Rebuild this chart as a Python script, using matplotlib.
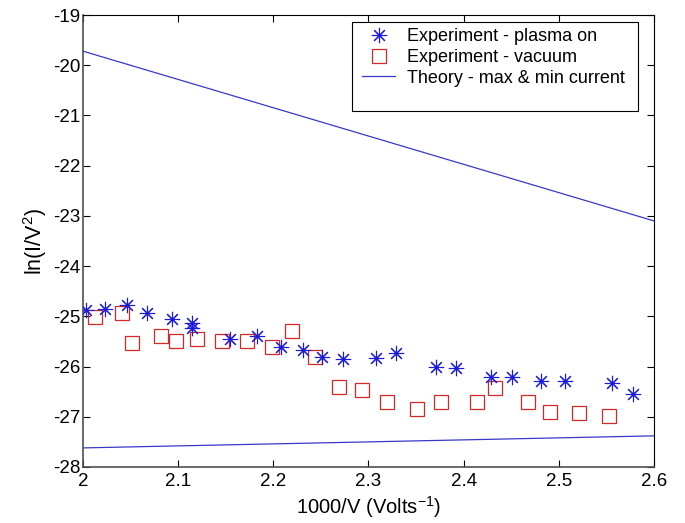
"""
ln(I/V^2) vs 1000/V: experiment (plasma on, vacuum) against theory bounds
"""

import numpy as np
import matplotlib
matplotlib.use('Agg')
import matplotlib.pyplot as plt
from matplotlib.lines import Line2D
from matplotlib.patches import Rectangle

plt.rcParams['font.family'] = ['Liberation Sans', 'DejaVu Sans']
plt.rcParams['mathtext.fontset'] = 'custom'
plt.rcParams['mathtext.rm'] = 'Liberation Sans'
plt.rcParams['mathtext.it'] = 'Liberation Sans'

BLUE = '#1a1ad8'
RED = '#d42828'
LINE_BLUE = '#3838c8'

# Experiment - plasma on
plasma_x = [2.003, 2.023, 2.046, 2.067, 2.094, 2.115, 2.115, 2.154, 2.183, 2.208,
            2.231, 2.251, 2.273, 2.308, 2.329, 2.371, 2.392, 2.429, 2.451, 2.481,
            2.507, 2.556, 2.578]
plasma_y = [-24.87, -24.85, -24.77, -24.93, -25.06, -25.14, -25.24, -25.45, -25.40, -25.62,
            -25.67, -25.80, -25.85, -25.83, -25.73, -26.00, -26.03, -26.21, -26.21, -26.28,
            -26.28, -26.33, -26.55]

# Experiment - vacuum
vac_x = [2.013, 2.041, 2.051, 2.082, 2.098, 2.120, 2.146, 2.172, 2.199, 2.220,
         2.244, 2.269, 2.293, 2.319, 2.351, 2.376, 2.414, 2.433, 2.468, 2.491,
         2.521, 2.553]
vac_y = [-25.02, -24.93, -25.54, -25.39, -25.49, -25.45, -25.49, -25.50, -25.61, -25.30,
         -25.81, -26.40, -26.47, -26.70, -26.84, -26.71, -26.70, -26.43, -26.70, -26.91,
         -26.92, -26.98]

# Theory - max & min current (end points)
theory_x = [2.0, 2.6]
theory_max = [-19.72, -23.10]
theory_min = [-27.62, -27.38]

fig = plt.figure(figsize=(6.85, 5.23), dpi=100)
ax = fig.add_axes([0.1212, 0.1071, 0.8335, 0.8642])

star = (8, 2, 0)
ax.plot(plasma_x, plasma_y, linestyle='none', marker=star, markersize=11,
        markeredgecolor=BLUE, markeredgewidth=0.8, zorder=4)
ax.plot(vac_x, vac_y, linestyle='none', marker='s', markersize=9.5,
        markerfacecolor='none', markeredgecolor=RED, markeredgewidth=0.9, zorder=3)
ax.plot(theory_x, theory_max, color=LINE_BLUE, linewidth=0.9, zorder=2)
ax.plot(theory_x, theory_min, color=LINE_BLUE, linewidth=0.9, zorder=2)

ax.set_xlim(2.0, 2.6)
ax.set_ylim(-28, -19)
ax.set_xticks(np.arange(2.0, 2.61, 0.1))
ax.set_xticklabels(['2', '2.1', '2.2', '2.3', '2.4', '2.5', '2.6'])
ax.set_yticks(np.arange(-28, -18.9, 1))
ax.set_yticklabels([str(v) for v in range(-28, -18)])
ax.tick_params(direction='in', top=True, right=True, length=5, width=0.8,
               labelsize=13.5, colors='black')
ax.tick_params(axis='x', pad=4)
ax.tick_params(axis='y', pad=2)
for side in ['top', 'right']:
    ax.spines[side].set_linewidth(0.8)
    ax.spines[side].set_color('black')
for side in ['left', 'bottom']:
    ax.spines[side].set_linewidth(1.2)
    ax.spines[side].set_color('#505050')

ax.set_xlabel('1000/V (Volts$^{-1}$)', fontsize=14.5, labelpad=3)
ax.set_ylabel('ln(I/V$^{2}$)', fontsize=15.5, labelpad=3)

# Legend: MATLAB style box, taller than its entries
box = Rectangle((0.4711, 0.7876), 0.5009, 0.1969, transform=ax.transAxes,
                facecolor='white', edgecolor='black', linewidth=0.8, zorder=5)
ax.add_patch(box)
handles = [
    Line2D([], [], linestyle='none', marker=star, markersize=11,
           markeredgecolor=BLUE, markeredgewidth=0.8),
    Line2D([], [], linestyle='none', marker='s', markersize=9.5,
           markerfacecolor='none', markeredgecolor=RED, markeredgewidth=0.9),
    Line2D([], [], color=LINE_BLUE, linewidth=0.9),
]
labels = ['Experiment - plasma on', 'Experiment - vacuum',
          'Theory - max & min current']
leg = ax.legend(handles, labels, loc='upper left', bbox_to_anchor=(0.4886, 0.9706),
                borderaxespad=0, borderpad=0, fontsize=13, frameon=False,
                handlelength=1.83, handletextpad=0.66, labelspacing=0.2)
leg.set_zorder(6)

fig.savefig('out.png', dpi=100, facecolor='white')
